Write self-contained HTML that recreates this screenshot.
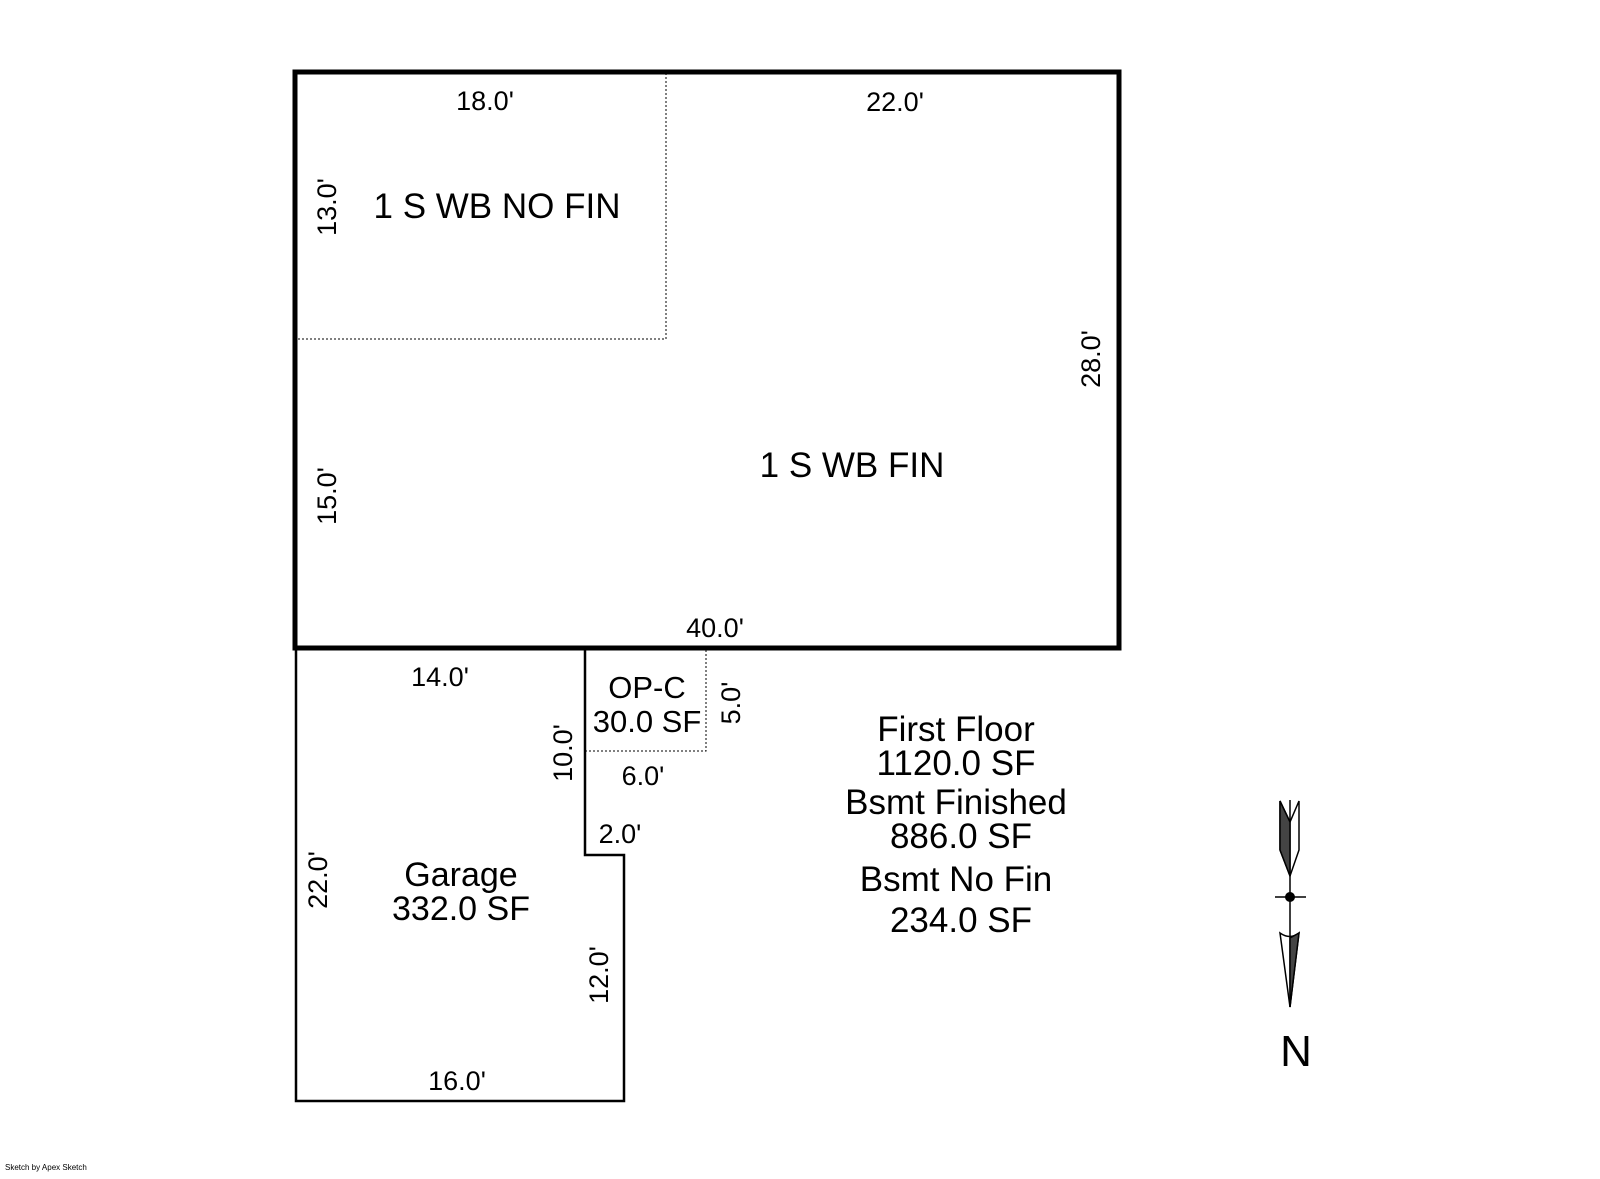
<!DOCTYPE html>
<html><head><style>html,body{margin:0;padding:0;background:#fff}</style></head><body>
<svg width="1600" height="1174" viewBox="0 0 1600 1174" xmlns="http://www.w3.org/2000/svg" font-family="Liberation Sans, sans-serif" fill="#000">
<rect x="0" y="0" width="1600" height="1174" fill="#fff"/>
<polyline points="666,73 666,339 296,339" fill="none" stroke="#000" stroke-width="1" stroke-dasharray="2,2"/>
<polyline points="706,650 706,751 585,751" fill="none" stroke="#000" stroke-width="1" stroke-dasharray="2,2"/>
<polyline points="296,649 296,1101 624,1101 624,855 585,855 585,649" fill="none" stroke="#000" stroke-width="2.5"/>
<rect x="295" y="72" width="824" height="576" fill="none" stroke="#000" stroke-width="5"/>
<g font-size="27" text-anchor="middle">
<text x="485" y="110">18.0'</text>
<text x="895" y="111">22.0'</text>
<text x="715" y="637">40.0'</text>
<text x="440" y="686">14.0'</text>
<text x="643" y="785">6.0'</text>
<text x="620" y="843">2.0'</text>
<text x="457" y="1090">16.0'</text>
<text transform="translate(336,207) rotate(-90)">13.0'</text>
<text transform="translate(1100,359) rotate(-90)">28.0'</text>
<text transform="translate(336,496) rotate(-90)">15.0'</text>
<text transform="translate(740,703) rotate(-90)">5.0'</text>
<text transform="translate(572,753) rotate(-90)">10.0'</text>
<text transform="translate(327,880) rotate(-90)">22.0'</text>
<text transform="translate(608,975) rotate(-90)">12.0'</text>
</g>
<g font-size="35" text-anchor="middle">
<text x="497" y="218">1 S WB NO FIN</text>
<text x="852" y="477">1 S WB FIN</text>
<text x="647" y="698" font-size="31">OP-C</text>
<text x="647" y="732" font-size="31">30.0 SF</text>
<text x="461" y="886" font-size="34">Garage</text>
<text x="461" y="920" font-size="34">332.0 SF</text>
<text x="956" y="741">First Floor</text>
<text x="956" y="775">1120.0 SF</text>
<text x="956" y="814">Bsmt Finished</text>
<text x="961" y="848">886.0 SF</text>
<text x="956" y="891">Bsmt No Fin</text>
<text x="961" y="932">234.0 SF</text>
<text x="1296" y="1066" font-size="44">N</text>
</g>
<g stroke="#000" stroke-width="1.5" fill="none">
<line x1="1290" y1="800" x2="1290" y2="1007"/>
<polyline points="1280,801 1280,850 1290,876 1299,850 1299,801 1290,822 1280,801"/>
<path d="M1280,801 L1290,822 L1290,876 L1280,850 Z" fill="#444"/>
<line x1="1275" y1="897" x2="1306" y2="897"/>
<path d="M1280,933 Q1290,940 1299,933 L1290,1007 Z"/>
<path d="M1290,938 L1299,933 L1290,1007 Z" fill="#444"/>
</g>
<circle cx="1290" cy="897" r="5" fill="#000"/>
<text x="5" y="1170" font-size="8">Sketch by Apex Sketch</text>
</svg>
</body></html>
